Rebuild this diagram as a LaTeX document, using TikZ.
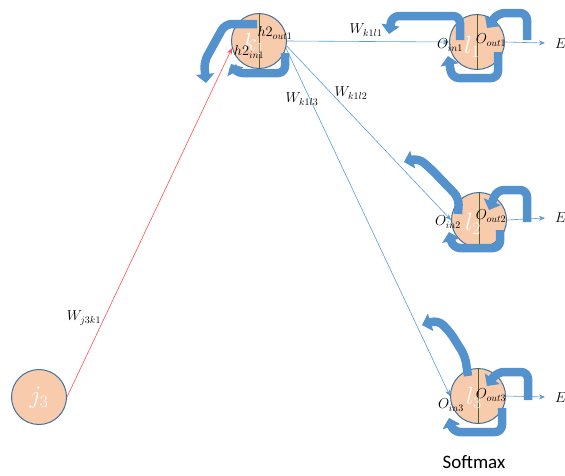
\documentclass[tikz,border=0pt]{standalone}
\usepackage{amsmath}
\usepackage{amssymb}
\usepackage{fontspec}
\newfontfamily\calib{Carlito}
\usetikzlibrary{arrows.meta}
\usepackage{xcolor}
\definecolor{peach}{RGB}{248,203,173}
\definecolor{rim}{RGB}{65,113,156}
\definecolor{wireblue}{RGB}{91,155,213}
\definecolor{bandblue}{RGB}{84,146,206}
\definecolor{divider}{RGB}{79,98,40}
\definecolor{redwire}{RGB}{255,80,80}

\begin{document}
\begin{tikzpicture}[x=1pt, y=-1pt,
  neuron/.style={circle, draw=rim, fill=peach, line width=1pt, minimum size=55pt, inner sep=0pt},
  wire/.style={draw=wireblue, line width=0.6pt, -{Stealth[length=6pt,width=5pt]}},
  band/.style={draw=bandblue, line width=8.5pt, rounded corners=7pt, -{Triangle[length=9pt,width=18pt]}},
  wlabel/.style={font=\fontsize{14.5}{16}\selectfont},
  inside/.style={text=white, font=\fontsize{27}{29}\selectfont}]
  \useasboundingbox (0,0) rectangle (565,475);
  \node[neuron] (k1) at (259,41) {};
  \node[neuron] (l1) at (477,42) {};
  \node[neuron] (l2) at (479,220) {};
  \node[neuron] (l3) at (478,396) {};
  \node[neuron] (j3) at (39,397) {};
  \foreach \n in {k1,l1,l2,l3}
    \draw[divider] (\n.north) -- (\n.south);
  \coordinate (e1) at (545,43);
  \coordinate (e2) at (545,218);
  \coordinate (e3) at (545,397);
  \draw[wire] (k1.east) -- (l1.west);
  \draw[wire] (k1.-10) -- (l2.west);
  \draw[wire] (k1.-15) -- (l3.west);
  \draw[wire] (l1.east) -- (e1);
  \draw[wire] (l2.east) -- (e2);
  \draw[wire] (l3.east) -- (e3);
  \draw[draw=redwire, line width=0.6pt, -{Stealth[length=6pt,width=5pt]}] (j3.east) -- (k1.195);
  \draw[band] (257,24) -- (225,24) -- (204,62) -- (206,83);
  \draw[band] (285,53) -- (285,73) -- (236,73) -- (231,64);
  \draw[band] (460,40) -- (460,16) -- (392,16) -- (389,34);
  \draw[band] (527,40) -- (527,13) -- (498,13) -- (487,28);
  \draw[band] (498,52) -- (498,78) -- (452,78) -- (448,56);
  \draw[band] (458,214) -- (459,198) -- (430,168) -- (418,158) -- (404,162);
  \draw[band] (527,222) -- (527,190) -- (497,190) -- (489,210);
  \draw[band] (500,230) -- (500,248) -- (453,248) -- (449,232);
  \draw[band] (468,376) -- (465,356) -- (450,332) -- (438,320) -- (422,325);
  \draw[band] (528,400) -- (528,372) -- (497,372) -- (487,386);
  \draw[band] (502,408) -- (502,432) -- (453,432) -- (449,418);
  \node[inside] at (254,44) {$k_1$};
  \node[inside] at (472,47) {$l_1$};
  \node[inside] at (473,224) {$l_2$};
  \node[inside] at (474,398) {$l_3$};
  \node[inside] at (39,398) {$j_3$};
  \node[wlabel] at (275,33) {$h2_{out1}$};
  \node[wlabel] at (249,52) {$h2_{in1}$};
  \node[wlabel] at (450,45) {$O_{in1}$};
  \node[wlabel] at (491,40) {$O_{out1}$};
  \node[wlabel] at (448,222) {$O_{in2}$};
  \node[wlabel] at (491,216) {$O_{out2}$};
  \node[wlabel] at (451,405) {$O_{in3}$};
  \node[wlabel] at (491,395) {$O_{out3}$};
  \node[wlabel] at (84,318) {$W_{j3k1}$};
  \node[wlabel] at (366,30) {$W_{k1l1}$};
  \node[wlabel] at (351,93) {$W_{k1l2}$};
  \node[wlabel] at (302,99) {$W_{k1l3}$};
  \node[wlabel, anchor=west, inner sep=0pt] at (555,44) {$E$};
  \node[wlabel, anchor=west, inner sep=0pt] at (555,218) {$E$};
  \node[wlabel, anchor=west, inner sep=0pt] at (555,398) {$E$};
  \node[font=\calib\fontsize{19}{21}\selectfont] at (474,462) {Softmax};
\end{tikzpicture}
\end{document}
